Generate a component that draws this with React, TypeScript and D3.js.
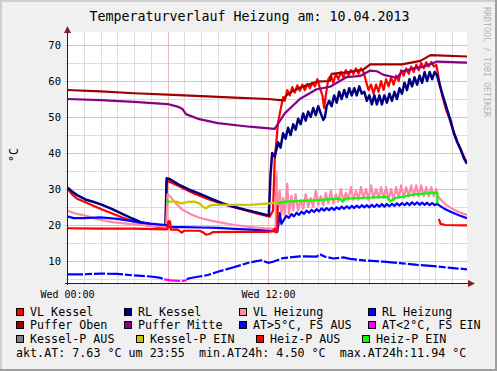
import * as d3 from "d3";
import React from "react";

type Pt = [number, number];

// hour of day, °C
const vlKessel: Pt[][] = [[
  [0, 30.3], [0.3, 28.5], [0.6, 27.3], [1.1, 26.3], [1.6, 25.3], [2.1, 24.3], [2.7, 23.2],
  [3.3, 22.1], [4.0, 20.9], [4.7, 20.0], [5.5, 19.4], [5.88, 19.2], [5.95, 32.4], [6.1, 32.0],
  [6.6, 31.0], [7.6, 28.7], [8.6, 26.9], [9.6, 25.4], [10.6, 24.1], [11.5, 23.0], [12.1, 22.3],
  [12.3, 24.0], [12.4, 38.0], [12.6, 48.5], [12.75, 52.0], [12.9, 55.5], [13.0, 54.5],
  [13.15, 57.5], [13.3, 56.0], [13.45, 58.3], [13.6, 56.8], [13.75, 58.8], [13.9, 57.3],
  [14.05, 59.0], [14.2, 57.5], [14.35, 59.2], [14.5, 58.0], [14.65, 59.5], [14.8, 58.5],
  [14.95, 60.5], [15.1, 58.0], [15.25, 56.0], [15.35, 52.5], [15.45, 56.0], [15.6, 60.5],
  [15.75, 61.5], [15.9, 59.5], [16.05, 62.0], [16.2, 60.5], [16.35, 62.5], [16.5, 61.0],
  [16.65, 63.0], [16.8, 61.5], [16.95, 63.0], [17.1, 62.0], [17.25, 63.5], [17.4, 62.0],
  [17.55, 63.5], [17.7, 62.5], [17.85, 60.0], [18.0, 57.5], [18.15, 59.0], [18.3, 56.5],
  [18.45, 59.0], [18.6, 57.0], [18.75, 60.0], [18.9, 57.5], [19.05, 60.5], [19.2, 58.5],
  [19.35, 61.0], [19.5, 59.0], [19.65, 61.5], [19.8, 60.0], [19.95, 63.0], [20.1, 61.5],
  [20.25, 63.5], [20.4, 62.0], [20.55, 64.0], [20.7, 62.5], [20.85, 64.5], [21.0, 63.0],
  [21.15, 65.0], [21.3, 63.5], [21.45, 65.2], [21.6, 64.0], [21.75, 65.3], [21.9, 64.0],
  [22.05, 64.5], [22.2, 60.5], [22.4, 56.0], [22.6, 52.5], [22.8, 50.0], [23.0, 47.0],
  [23.2, 44.5], [23.4, 42.0], [23.6, 40.0], [23.88, 37.2],
]];

const rlKessel: Pt[][] = [[
  [0, 30.5], [0.3, 29.3], [0.6, 28.3], [1.1, 27.1], [1.6, 26.4], [2.1, 25.6], [2.7, 24.4],
  [3.3, 23.1], [3.9, 21.8], [4.5, 20.6], [5.1, 20.0], [5.7, 19.6], [5.88, 19.6], [5.95, 33.0],
  [6.1, 32.8], [6.67, 31.2], [7.3, 29.8], [7.9, 28.7], [8.6, 27.3], [9.3, 26.0], [10.0, 25.0],
  [10.7, 24.2], [11.3, 23.5], [11.8, 22.9], [12.05, 22.6], [12.15, 34.0], [12.25, 40.0],
  [12.4, 39.0], [12.6, 43.0], [12.75, 41.5], [12.9, 45.5], [13.05, 44.0], [13.2, 47.0],
  [13.35, 45.0], [13.5, 48.0], [13.65, 46.5], [13.8, 49.5], [13.95, 48.0], [14.1, 51.0],
  [14.25, 49.0], [14.4, 51.5], [14.55, 50.0], [14.7, 52.5], [14.85, 50.5], [15.0, 53.0],
  [15.15, 51.0], [15.3, 49.2], [15.4, 50.0], [15.5, 53.0], [15.65, 54.5], [15.8, 53.0],
  [15.95, 56.0], [16.1, 54.0], [16.25, 57.0], [16.4, 55.0], [16.55, 57.5], [16.7, 55.5],
  [16.85, 58.0], [17.0, 56.0], [17.15, 58.0], [17.3, 56.0], [17.45, 58.5], [17.6, 56.5],
  [17.75, 57.0], [17.9, 54.5], [18.05, 56.0], [18.2, 53.5], [18.35, 56.0], [18.5, 53.5],
  [18.65, 56.0], [18.8, 53.5], [18.95, 56.0], [19.1, 54.0], [19.25, 56.5], [19.4, 54.5],
  [19.55, 57.0], [19.7, 55.0], [19.85, 58.0], [20.0, 56.5], [20.15, 59.5], [20.3, 57.5],
  [20.45, 60.5], [20.6, 58.5], [20.75, 61.0], [20.9, 59.0], [21.05, 61.5], [21.2, 59.5],
  [21.35, 62.5], [21.5, 60.0], [21.65, 62.5], [21.8, 60.5], [21.95, 62.5], [22.1, 61.5],
  [22.3, 58.0], [22.5, 55.0], [22.7, 52.0], [22.9, 49.0], [23.1, 45.5], [23.3, 43.0],
  [23.5, 41.0], [23.7, 38.5], [23.88, 37.0],
]];

const vlHeizung: Pt[][] = [[
  [0, 24.0], [0.5, 23.2], [1.1, 22.6], [1.8, 21.6], [2.7, 20.8], [3.7, 20.3], [4.7, 19.9],
  [5.5, 19.6], [5.92, 19.5], [6.0, 28.5], [6.15, 28.0], [6.5, 26.0], [6.9, 24.2], [7.4, 23.0],
  [7.9, 22.0], [8.6, 21.2], [9.3, 20.6], [10.0, 20.0], [10.9, 19.5], [11.8, 19.1], [12.3, 18.9],
  [12.45, 19.0], [12.5, 34.8], [12.58, 23.5], [12.7, 29.5], [12.8, 22.8], [12.9, 27.5],
  [13.0, 22.5], [13.15, 31.5], [13.25, 23.0], [13.4, 28.0], [13.5, 24.0], [13.65, 28.5],
  [13.8, 24.0], [13.95, 27.0], [14.1, 24.5], [14.25, 28.5], [14.4, 25.0], [14.55, 27.5],
  [14.7, 25.0], [14.85, 29.5], [15.0, 25.5], [15.15, 28.0], [15.3, 25.5], [15.45, 29.0],
  [15.6, 26.0], [15.75, 29.5], [15.9, 26.0], [16.05, 28.5], [16.2, 26.5], [16.35, 30.0],
  [16.5, 26.5], [16.65, 29.0], [16.8, 27.0], [16.95, 30.5], [17.1, 27.0], [17.25, 29.5],
  [17.4, 27.0], [17.55, 30.5], [17.7, 27.5], [17.85, 30.0], [18.0, 27.0], [18.15, 31.0],
  [18.3, 27.5], [18.45, 30.0], [18.6, 27.5], [18.75, 30.5], [18.9, 27.5], [19.05, 30.5],
  [19.2, 27.0], [19.35, 30.0], [19.5, 27.0], [19.65, 30.5], [19.8, 27.5], [19.95, 31.0],
  [20.1, 27.5], [20.25, 30.5], [20.4, 28.0], [20.55, 31.0], [20.7, 28.0], [20.85, 31.0],
  [21.0, 28.0], [21.15, 31.0], [21.3, 28.0], [21.45, 30.5], [21.6, 28.0], [21.75, 30.5],
  [21.9, 28.0], [22.05, 30.0], [22.15, 28.0], [22.4, 26.6], [22.7, 25.4], [23.0, 24.5],
  [23.4, 23.6], [23.88, 22.8],
]];

const rlHeizung: Pt[][] = [[
  [0, 22.4], [0.4, 21.9], [1.0, 21.9], [2.0, 22.1], [3.0, 21.7], [4.0, 21.0], [5.0, 20.4],
  [5.9, 20.0], [6.1, 19.5], [7.0, 19.4], [8.0, 19.3], [9.0, 19.2], [10.0, 18.9], [11.0, 18.7],
  [12.0, 18.4], [12.55, 18.2], [12.62, 20.0], [12.7, 23.3], [12.8, 20.3], [12.95, 21.5],
  [13.1, 22.5], [13.25, 22.0], [13.4, 23.0], [13.55, 22.4], [13.7, 23.4], [13.85, 22.8],
  [14.0, 23.7], [14.15, 23.1], [14.3, 24.0], [14.45, 23.4], [14.6, 24.2], [14.75, 23.6],
  [14.9, 24.4], [15.05, 23.8], [15.2, 24.6], [15.35, 24.0], [15.5, 24.7], [15.65, 24.1],
  [15.8, 24.8], [15.95, 24.2], [16.1, 24.9], [16.25, 24.4], [16.4, 25.1], [16.55, 24.5],
  [16.7, 25.2], [16.85, 24.6], [17.0, 25.3], [17.15, 24.7], [17.3, 25.4], [17.45, 24.8],
  [17.6, 25.5], [17.75, 24.9], [17.9, 25.5], [18.05, 24.9], [18.2, 25.6], [18.35, 25.0],
  [18.5, 25.7], [18.65, 25.1], [18.8, 25.8], [18.95, 25.1], [19.1, 25.8], [19.25, 25.2],
  [19.4, 25.9], [19.55, 25.3], [19.7, 26.0], [19.85, 25.4], [20.0, 26.1], [20.15, 25.5],
  [20.3, 26.2], [20.45, 25.5], [20.6, 26.3], [20.75, 25.6], [20.9, 26.3], [21.05, 25.6],
  [21.2, 26.2], [21.35, 25.6], [21.5, 26.2], [21.65, 25.5], [21.8, 26.1], [21.95, 25.5],
  [22.1, 25.9], [22.2, 25.5], [22.5, 24.6], [22.9, 23.7], [23.4, 22.7], [23.88, 21.9],
]];

const pufferOben: Pt[][] = [[
  [0, 57.5], [2, 57.1], [4, 56.6], [6, 56.2], [8, 55.8], [10, 55.4], [12, 55.0], [12.9, 54.6],
  [13.1, 56.0], [13.4, 57.0], [14.0, 58.3], [14.9, 59.8], [15.7, 60.0], [15.8, 62.0],
  [16.5, 62.3], [17.7, 63.2], [18.1, 64.6], [20.0, 64.6], [21.1, 65.6], [21.7, 67.2],
  [23.88, 66.8],
]];

const pufferMitte: Pt[][] = [[
  [0, 55.0], [2, 54.7], [4, 54.2], [6, 53.6], [6.6, 52.9], [6.9, 52.2], [7.1, 50.8],
  [7.9, 49.4], [9.0, 48.3], [10.9, 47.3], [12.4, 46.7], [13.0, 51.0], [13.9, 55.0],
  [14.9, 57.7], [15.7, 58.4], [16.7, 61.1], [17.5, 61.4], [18.1, 62.9], [18.5, 62.7],
  [18.9, 61.7], [19.7, 60.9], [20.0, 62.6], [20.7, 63.5], [21.3, 64.0], [22.1, 65.4],
  [23.88, 65.1],
]];

const atUeber5: Pt[][] = [
  [[0, 6.3], [0.5, 6.3], [1, 6.3], [2, 6.5], [3, 6.4], [4, 6.0], [5, 5.7], [5.5, 5.4], [5.8, 5.0]],
  [[7.15, 4.9], [7.3, 5.2], [7.9, 5.7], [8.4, 6.1], [9.0, 7.0], [9.9, 8.2], [10.9, 9.6],
   [11.6, 10.2], [12.0, 9.5], [12.3, 9.8], [12.9, 10.8], [13.9, 11.3], [14.9, 11.2],
   [15.1, 11.9], [15.4, 11.2], [15.9, 10.7], [16.5, 11.0], [16.9, 10.6], [17.9, 10.1],
   [18.9, 9.8], [19.9, 9.4], [20.9, 8.9], [21.9, 8.6], [22.9, 8.1], [23.88, 7.7]],
];

const atUnter2: Pt[][] = [
  [[5.8, 4.9], [6.2, 4.6], [6.6, 4.5], [7.0, 4.5], [7.15, 4.7]],
];

const kesselPAus: Pt[][] = [];

const kesselPEin: Pt[][] = [[
  [6.0, 26.5], [6.5, 26.5], [6.85, 26.0], [7.2, 26.4], [7.6, 26.5], [7.9, 26.0], [8.1, 25.1],
  [8.3, 24.6], [8.5, 25.4], [8.9, 25.6], [9.9, 25.6], [10.9, 25.6], [12.1, 26.0], [12.55, 26.3],
]];

const heizPAus: Pt[][] = [
  [[0, 19.1], [2, 19.0], [4, 19.0], [5.9, 18.8], [6.0, 18.9], [6.05, 21.0], [6.15, 21.0],
   [6.2, 18.7], [6.6, 18.8], [6.85, 17.9], [7.0, 18.4], [7.9, 18.4], [8.15, 17.9], [8.3, 17.3],
   [8.5, 17.5], [8.7, 18.0], [10, 18.1], [12, 18.1], [12.3, 18.3], [12.4, 19.0], [12.45, 18.0],
   [12.55, 18.0], [12.58, 25.5]],
  [[22.2, 21.7], [22.3, 20.3], [22.6, 20.0], [23.88, 19.9]],
];

const heizPEin: Pt[][] = [
  [[5.97, 27.2], [6.05, 26.0]],
  [[12.55, 26.0], [12.8, 26.3], [13.0, 26.5], [14.0, 26.7], [14.9, 26.9], [15.5, 27.1],
   [16.3, 27.3], [16.45, 26.5], [16.6, 27.3], [17.5, 27.5], [19.1, 27.8], [19.3, 26.6],
   [19.6, 27.5], [20.3, 28.1], [20.9, 28.6], [21.5, 28.8], [22.1, 29.0], [22.12, 26.0]],
];

const seriesNames = [
  "VL Kessel", "RL Kessel", "VL Heizung", "RL Heizung",
  "Puffer Oben", "Puffer Mitte", "AT>5°C, FS AUS", "AT<2°C, FS EIN",
  "Kessel-P AUS", "Kessel-P EIN", "Heiz-P AUS", "Heiz-P EIN",
];
const seriesColors = [
  "#ff0000", "#000080", "#ff88aa", "#0000ff",
  "#a00000", "#880088", "#0000ff", "#ff00ff",
  "#808080", "#c8c800", "#ff0000", "#00ff00",
];
const seriesData = [
  vlKessel, rlKessel, vlHeizung, rlHeizung,
  pufferOben, pufferMitte, atUeber5, atUnter2,
  kesselPAus, kesselPEin, heizPAus, heizPEin,
];
// legend column x of text per row
const legendCols = [
  [30, 138, 253, 382],
  [30, 138, 253, 382],
  [30, 150, 270, 376],
];

const yTicks = [10, 20, 30, 40, 50, 60, 70];
const xLabels: [number, string][] = [[0, "Wed 00:00"], [12, "Wed 12:00"]];
const footer = "akt.AT: 7.63 °C um 23:55  min.AT24h: 4.50 °C  max.AT24h:11.94 °C";

const W = 497, H = 371;
const L = 67, R = 467, T = 32, B = 283;
const MONO = "'DejaVu Sans Mono', monospace";

export default function App() {
  const x = d3.scaleLinear().domain([0, 24]).range([L, 469]);
  const y = d3.scaleLinear().domain([10, 70]).range([261, 45]);
  const line = d3.line<Pt>().x(d => x(d[0])).y(d => y(d[1]));

  const hours = d3.range(1, 24);
  const minorY = d3.range(5, 75, 5).filter(v => v % 10 !== 0);

  return (
    <svg width={W} height={H} style={{ position: "absolute", left: 0, top: 0 }} fontFamily={MONO}>
      <defs>
        <clipPath id="plot"><rect x={L} y={T} width={R - L} height={B - T} /></clipPath>
      </defs>
      <rect x={0} y={0} width={W} height={H} fill="#f0f0f0" />
      {/* 3d frame */}
      <rect x={0} y={0} width={W} height={2} fill="#cfcfcf" />
      <rect x={0} y={0} width={2} height={H} fill="#cfcfcf" />
      <rect x={0} y={H - 2} width={W} height={2} fill="#9e9e9e" />
      <rect x={W - 2} y={0} width={2} height={H} fill="#9e9e9e" />

      <rect x={L} y={T} width={R - L} height={B - T} fill="#fff" />

      {/* grid */}
      <g shapeRendering="crispEdges">
        {hours.filter(h => h % 6 !== 0).map(h => (
          <line key={"hx" + h} x1={Math.round(x(h)) + 0.5} x2={Math.round(x(h)) + 0.5} y1={T} y2={B + 2} stroke="#dcdcdc" />
        ))}
        {minorY.map(v => (
          <line key={"my" + v} x1={L - 2} x2={R} y1={Math.round(y(v)) + 0.5} y2={Math.round(y(v)) + 0.5} stroke="#dcdcdc" />
        ))}
        {[6, 12, 18].map(h => (
          <line key={"Hx" + h} x1={Math.round(x(h)) + 0.5} x2={Math.round(x(h)) + 0.5} y1={T} y2={B + 2} stroke="#f2b6b6" />
        ))}
        {yTicks.map(v => (
          <line key={"My" + v} x1={L - 2} x2={R} y1={Math.round(y(v)) + 0.5} y2={Math.round(y(v)) + 0.5} stroke="#f2b6b6" />
        ))}
      </g>

      {/* series */}
      <g clipPath="url(#plot)" fill="none" strokeWidth={2.2} strokeLinejoin="round">
        {seriesData.map((segs, i) =>
          segs.map((seg, j) => (
            <path key={i + "-" + j} d={line(seg) || ""} stroke={seriesColors[i]}
              strokeWidth={i === 1 ? 2.5 : undefined}
              strokeDasharray={i === 6 || i === 7 ? "16 2 7 2 11 2" : undefined} />
          ))
        )}
      </g>

      {/* axes */}
      <g shapeRendering="crispEdges">
        <line x1={L + 0.5} x2={L + 0.5} y1={B + 2} y2={30} stroke="#1f1f1f" />
        <line x1={L - 2} x2={469} y1={B + 0.5} y2={B + 0.5} stroke="#1f1f1f" />
      </g>
      <path d={`M${L - 3},${33} L${L + 0.5},${26} L${L + 4},${33} Z`} fill="#801f1f" />
      <path d={`M${468},${B - 3} L${475},${B + 0.5} L${468},${B + 4} Z`} fill="#801f1f" />

      {/* tick labels */}
      {yTicks.map(v => (
        <text key={"yl" + v} x={61} y={y(v) + 4} fontSize={10.5} textAnchor="end" fill="#000">{v}</text>
      ))}
      {xLabels.map(([h, s]) => (
        <text key={"xl" + h} x={x(h) + 0.5} y={297.5} fontSize={10} textAnchor="middle" fill="#000">{s}</text>
      ))}

      {/* title, unit, watermark */}
      <text x={249.5} y={21} fontSize={13.3} textAnchor="middle" fill="#000">
        Temperaturverlauf Heizung am: 10.04.2013
      </text>
      <text x={18} y={155} fontSize={11.7} textAnchor="middle" transform="rotate(-90,18,155)" fill="#000">°C</text>
      <text x={484} y={7} fontSize={8.3} transform="rotate(90,484,7)" fill="#b4b4b4">RRDTOOL / TOBI OETIKER</text>

      {/* legend */}
      {seriesNames.map((name, i) => {
        const row = Math.floor(i / 4), col = i % 4;
        const tx = legendCols[row][col];
        const by = 315.5 + row * 13.8;
        return (
          <g key={"lg" + i}>
            <rect x={tx - 13.5} y={by - 7.5} width={7} height={7} fill={seriesColors[i]} stroke="#000" strokeWidth={1} shapeRendering="crispEdges" />
            <text x={tx} y={by} fontSize={11.7} fill="#000">{name}</text>
          </g>
        );
      })}
      <text x={16} y={357} fontSize={11.7} fill="#000" style={{ whiteSpace: "pre" }}>{footer}</text>
    </svg>
  );
}
